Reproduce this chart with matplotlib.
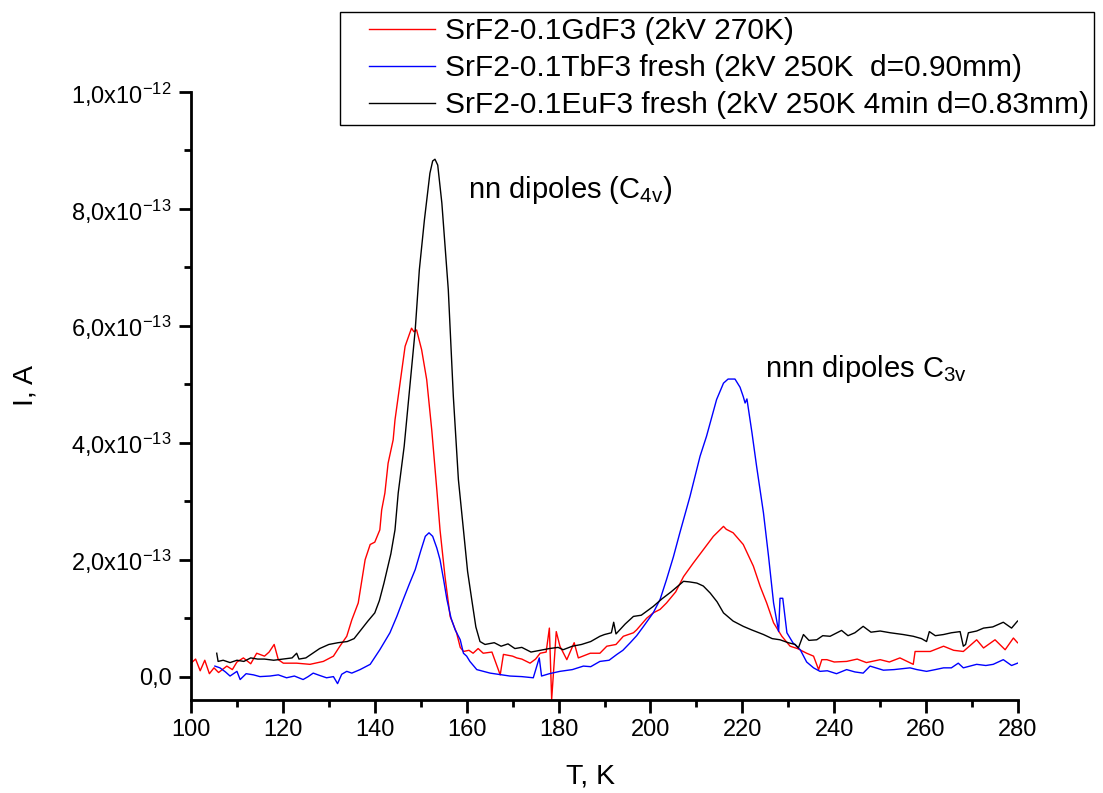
import math
import matplotlib
matplotlib.use("Agg")
import matplotlib.pyplot as plt
from matplotlib.ticker import FixedLocator, FuncFormatter
from matplotlib.legend_handler import HandlerLine2D

plt.rcParams['font.family'] = ['Liberation Sans', 'DejaVu Sans']
plt.rcParams['mathtext.fontset'] = 'custom'
plt.rcParams['mathtext.rm'] = 'Liberation Sans'
plt.rcParams['mathtext.default'] = 'regular'

SCALE = 1e-13

# ---- data (current in units of 1e-13 A) ----
gd_T = [100, 101, 102, 103, 104, 105, 106, 107.8, 109, 110, 111.4, 113, 114.3, 116, 117, 118.1, 119, 120.1,
        123, 125.9, 128.8, 131, 132.4, 133.9, 135, 136.4, 137.9, 139, 140, 141.1, 141.5, 142.2, 142.9, 144,
        144.4, 145.1, 145.9, 146.6, 147.5, 148, 148.5, 149.1, 150.2, 151.3, 152.4, 153.5, 154.2, 155.3,
        156.4, 157.8, 158.6, 159.3, 160.5, 161.4, 162.5, 163.6, 165.5, 167.3, 168, 170, 170.9, 172, 173.8,
        175, 176, 177.3, 178, 178.5, 179.5, 180.3, 181.8, 183.4, 184.3, 186.9, 189, 190.5, 192.5, 194.1,
        196.3, 197, 199.2, 200.6, 202.1, 203.5, 205.5, 207.2, 209.3, 211.5, 213.7, 215.9, 216.5, 218, 220.2,
        222.4, 223.9, 225.3, 226.8, 228.6, 230.4, 232, 234, 235.5, 236.6, 237.3, 238.4, 240, 242.7, 245,
        247, 250, 252, 254.3, 257.2, 257.6, 260.9, 263.8, 266, 268.1, 271, 272.5, 275, 277.2, 279, 279.9]
gd_I = [0.23, 0.30, 0.10, 0.28, 0.05, 0.15, 0.07, 0.18, 0.12, 0.25, 0.32, 0.22, 0.40, 0.35, 0.42, 0.55, 0.29, 0.23,
        0.23, 0.21, 0.26, 0.35, 0.52, 0.69, 0.97, 1.26, 2.00, 2.26, 2.30, 2.51, 2.85, 3.14, 3.65, 4.05,
        4.39, 4.79, 5.25, 5.65, 5.85, 5.96, 5.90, 5.93, 5.59, 5.08, 4.22, 3.20, 2.51, 1.70,
        1.03, 0.75, 0.50, 0.43, 0.45, 0.40, 0.48, 0.40, 0.42, 0.03, 0.38, 0.35, 0.32, 0.30, 0.23,
        0.30, 0.40, 0.42, 0.83, -0.39, 0.77, 0.52, 0.29, 0.58, 0.32, 0.40, 0.40, 0.52, 0.55, 0.69,
        0.75, 0.80, 1.00, 1.09, 1.15, 1.26, 1.45, 1.71, 1.94, 2.17, 2.40, 2.57, 2.52, 2.46, 2.26,
        1.89, 1.54, 1.26, 0.92, 0.69, 0.52, 0.48, 0.40, 0.35, 0.12, 0.29, 0.29, 0.25, 0.26, 0.30,
        0.24, 0.29, 0.25, 0.32, 0.21, 0.43, 0.43, 0.52, 0.45, 0.43, 0.63, 0.49, 0.63, 0.46, 0.66, 0.58]

tb_T = [105.2, 106.3, 107.5, 108.5, 110, 110.7, 112, 113.6, 115, 117.2, 119, 120.8, 122.5, 124.4, 125.5, 126.6,
        128, 129.5, 131, 131.9, 132.8, 133.9, 135, 136.8, 139, 141.1, 143.3, 144.8, 146.2, 147.5, 148.8, 150,
        151, 151.8, 152.6, 153.5, 154.2, 155, 155.7, 156.6, 157.5, 158.6, 159.3, 160, 160.7, 162.2, 165.1,
        169.4, 172, 174.5, 175.8, 176.3, 178, 180.3, 183, 185.4, 187, 189, 191, 192.7, 194, 195.6, 197,
        198.5, 200.6, 202.1, 203.5, 205, 206.4, 208.6, 210.8, 212.2, 214.4, 215.9, 216.9, 218.4, 219.5,
        220.2, 220.6, 221, 222.1, 223.1, 224.6, 225.7, 226.8, 227.9, 228.2, 228.8, 229.7, 231, 232.6, 234,
        235.5, 236.9, 238.5, 240.5, 242.7, 244.5, 246.3, 247.8, 250.7, 253, 256.5, 258, 260.1, 262, 263.8,
        265.5, 267, 268.1, 271, 273, 274.6, 276.8, 278.6, 279.9]
tb_I = [0.18, 0.15, 0.08, 0.01, 0.09, -0.05, 0.05, 0.03, 0.00, 0.01, 0.03, -0.02, 0.01, -0.05, 0.00, 0.06,
        0.02, -0.02, 0.00, -0.12, 0.04, 0.09, 0.06, 0.12, 0.21, 0.46, 0.75, 1.03, 1.32, 1.58, 1.83, 2.15,
        2.40, 2.46, 2.40, 2.20, 2.00, 1.65, 1.32, 1.00, 0.80, 0.63, 0.40, 0.35, 0.26, 0.12, 0.06,
        0.01, 0.00, -0.02, 0.32, 0.01, 0.05, 0.09, 0.12, 0.18, 0.17, 0.26, 0.28, 0.38, 0.45, 0.58, 0.70,
        0.86, 1.09, 1.32, 1.66, 2.05, 2.46, 3.08, 3.77, 4.11, 4.74, 5.02, 5.09, 5.09, 4.95,
        4.79, 4.68, 4.75, 4.17, 3.60, 2.80, 2.06, 1.26, 0.77, 1.34, 1.34, 0.75, 0.58, 0.46, 0.25,
        0.15, 0.09, 0.10, 0.05, 0.12, 0.08, 0.06, 0.18, 0.11, 0.12, 0.15, 0.12, 0.09, 0.12, 0.15,
        0.15, 0.23, 0.15, 0.21, 0.19, 0.21, 0.29, 0.19, 0.23]

eu_T = [105.6, 105.9, 107, 108.5, 110, 111.5, 113, 114.5, 116, 118, 120, 122, 123, 123.5, 125, 126.5, 128, 130,
        132, 134, 135.5, 137, 138.5, 140, 141, 142, 143.5, 144.4, 145.1, 146.4, 147.7, 148.8, 149.7, 150.8,
        152, 152.6, 153.1, 153.7, 154.6, 156, 157.1, 158.2, 159.3, 160.2, 161.1, 162, 162.9, 164, 166,
        167.5, 169, 170.5, 172, 174, 176, 178, 179.9, 181, 183, 185, 187, 189, 190, 191.5, 192, 192.5,
        194.5, 196.3, 198, 200.6, 202.5, 204.5, 207.2, 208.5, 210.1, 211.5, 213, 214.5, 215.9, 218, 220.2,
        222, 224.6, 226.5, 228.2, 230, 231.5, 232.2, 233.3, 234.5, 236.2, 237.5, 239.1, 241.6, 243, 244.5,
        246.3, 248, 250, 252.2, 255, 257.2, 259, 260.1, 260.7, 262, 263.8, 265.5, 267.4, 268.1, 268.6,
        269.2, 271, 272.5, 274.5, 276.8, 278.6, 279.9]
eu_I = [0.40, 0.26, 0.28, 0.24, 0.28, 0.26, 0.32, 0.30, 0.30, 0.28, 0.30, 0.32, 0.40, 0.30, 0.32, 0.40, 0.48, 0.55,
        0.58, 0.60, 0.65, 0.80, 0.95, 1.09, 1.30, 1.60, 2.10, 2.51, 3.14, 3.94, 5.02, 5.93, 6.96, 7.81,
        8.61, 8.82, 8.85, 8.75, 8.10, 6.62, 4.79, 3.37, 2.51, 1.80, 1.32, 0.85, 0.60, 0.55, 0.58,
        0.52, 0.56, 0.48, 0.50, 0.42, 0.45, 0.48, 0.50, 0.46, 0.52, 0.55, 0.60, 0.69, 0.72, 0.75, 0.93, 0.73,
        0.90, 1.03, 1.05, 1.20, 1.33, 1.45, 1.63, 1.62, 1.60, 1.55, 1.43, 1.28, 1.09, 0.95, 0.86,
        0.80, 0.72, 0.65, 0.63, 0.58, 0.55, 0.49, 0.72, 0.62, 0.63, 0.70, 0.69, 0.79, 0.70, 0.75,
        0.86, 0.76, 0.78, 0.75, 0.72, 0.69, 0.65, 0.60, 0.77, 0.70, 0.72, 0.75, 0.77, 0.52, 0.55,
        0.75, 0.78, 0.83, 0.85, 0.93, 0.83, 0.95]

labels = ["SrF2-0.1GdF3 (2kV 270K)",
          "SrF2-0.1TbF3 fresh (2kV 250K  d=0.90mm)",
          "SrF2-0.1EuF3 fresh (2kV 250K 4min d=0.83mm)"]
colors = ["#ff0000", "#0000ff", "#000000"]

x_major = [100, 120, 140, 160, 180, 200, 220, 240, 260, 280]
x_minor = [110, 130, 150, 170, 190, 210, 230, 250, 270]
y_major = [0.0, 2.0, 4.0, 6.0, 8.0, 10.0]   # units of 1e-13
y_minor = [1.0, 3.0, 5.0, 7.0, 9.0]

fig = plt.figure(figsize=(11.03, 7.93), dpi=100)
ax = fig.add_axes([191 / 1103, 1 - 700 / 793, (1018 - 191) / 1103, (700 - 92) / 793])

series = [(gd_T, gd_I), (tb_T, tb_I), (eu_T, eu_I)]
lines = []
for (t, i), c, lab in zip(series, colors, labels):
    ln, = ax.plot(t, [v * SCALE for v in i], color=c, lw=1.0, label=lab)
    lines.append(ln)

ax.set_xlim(100, 280)
ax.set_ylim(-0.4e-13, 1.0e-12)
ax.spines['top'].set_visible(False)
ax.spines['right'].set_visible(False)
for s in ('left', 'bottom'):
    ax.spines[s].set_linewidth(2.0)

ax.xaxis.set_major_locator(FixedLocator(x_major))
ax.xaxis.set_minor_locator(FixedLocator(x_minor))
ax.yaxis.set_major_locator(FixedLocator([v * SCALE for v in y_major]))
ax.yaxis.set_minor_locator(FixedLocator([v * SCALE for v in y_minor]))


def yfmt(v, pos):
    if abs(v) < 1e-20:
        return "0,0"
    e = int(math.floor(math.log10(abs(v)) + 1e-9))
    m = v / 10 ** e
    return ("%.1f" % m).replace(".", ",") + "x10$^{%d}$" % e


ax.yaxis.set_major_formatter(FuncFormatter(yfmt))
ax.tick_params(which='major', direction='out', length=9, width=2.0, labelsize=17, pad=5)
ax.tick_params(which='minor', direction='out', length=5, width=2.0)

ax.set_xlabel("T, K", fontsize=20.5)
ax.set_ylabel("I, A", fontsize=20.5)
ax.xaxis.set_label_coords(0.4825, -0.105)
ax.yaxis.set_label_coords(-0.185, 0.518)

ax.text(160.3, 8.19e-13, "nn dipoles (C$_{4v}$)", fontsize=21, va='baseline', ha='left')
ax.text(225.0, 5.13e-13, "nnn dipoles C$_{3v}$", fontsize=21, va='baseline', ha='left')

leg = fig.legend(handles=lines, labels=labels, loc='upper left',
                 bbox_to_anchor=(340 / 1103, 1 - 12 / 793), bbox_transform=fig.transFigure,
                 fontsize=21.5, frameon=True, fancybox=False, framealpha=1, edgecolor='black',
                 borderpad=0.18, handlelength=3.0, handletextpad=0.335, labelspacing=0.30,
                 borderaxespad=0,
                 handler_map={l: HandlerLine2D(xpad=0.79) for l in lines})
leg.get_frame().set_linewidth(1.0)

fig.savefig("out.png", dpi=100)
